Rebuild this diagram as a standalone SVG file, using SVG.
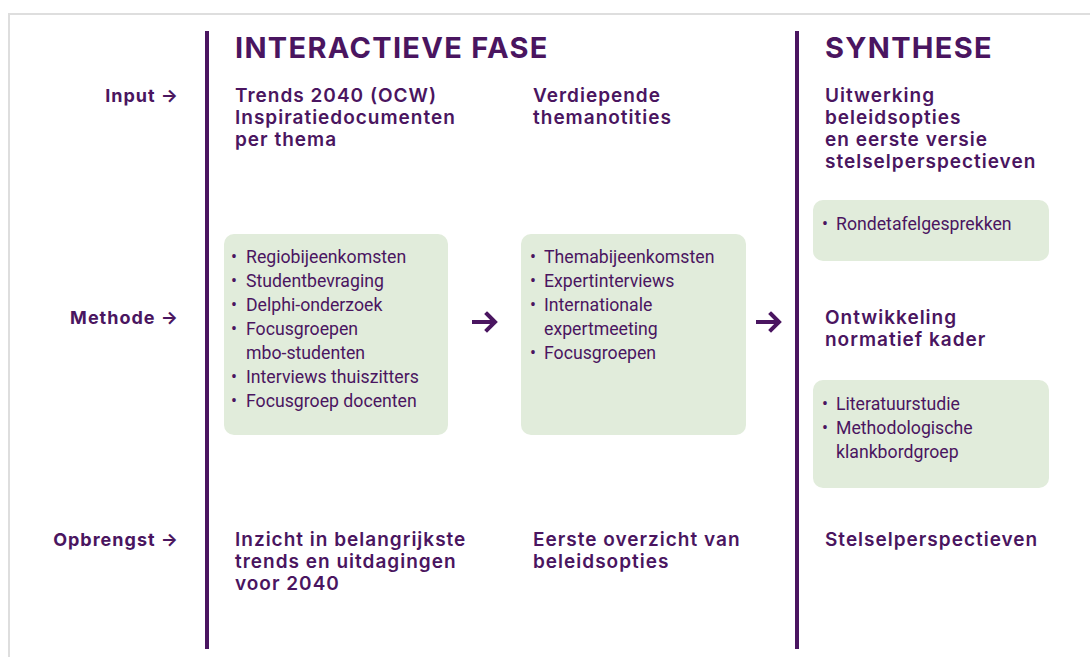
<svg xmlns="http://www.w3.org/2000/svg" width="1090" height="657" viewBox="0 0 1090 657">
<style>
.t{font-family:Inter,"Liberation Sans",sans-serif;font-weight:700;font-size:29px;fill:#4a1560;letter-spacing:1.3px}
.h{font-family:Inter,"Liberation Sans",sans-serif;font-weight:600;font-size:19px;fill:#4a1560;letter-spacing:1px}
.lb{font-family:Inter,"Liberation Sans",sans-serif;font-weight:700;font-size:18px;fill:#4a1560;text-anchor:end;letter-spacing:1px}
.b{font-family:Roboto,"Liberation Sans",sans-serif;font-size:17.7px;fill:#4a1560}
.box{fill:#e1ecdb}
.vl{stroke:#4a1560;stroke-width:4}
.arr{fill:none;stroke:#4a1560;stroke-width:4;stroke-linecap:square}
</style>
<rect width="1090" height="657" fill="#fff"/>
<path d="M9 657 V14 H1090" fill="none" stroke="#dedede" stroke-width="2"/>
<g id="dividers">
<line class="vl" x1="207" y1="31" x2="207" y2="649"/>
<line class="vl" x1="797" y1="31" x2="797" y2="649"/>
</g>
<g id="headers">
<text class="t" x="235" y="58">INTERACTIEVE FASE</text>
<text class="t" x="825" y="58">SYNTHESE</text>
</g>
<g id="row-labels">
<text class="lb" x="179" y="102">Input →</text>
<text class="lb" x="179" y="324">Methode →</text>
<text class="lb" x="179" y="546">Opbrengst →</text>
</g>
<g id="input-1"><text class="h" x="235" y="102">Trends 2040 (OCW)<tspan x="235" dy="22">Inspiratiedocumenten</tspan><tspan x="235" dy="22">per thema</tspan></text></g>
<g id="input-2"><text class="h" x="533" y="102">Verdiepende<tspan x="533" dy="22">themanotities</tspan></text></g>
<g id="input-3"><text class="h" x="825" y="102">Uitwerking<tspan x="825" dy="22">beleidsopties</tspan><tspan x="825" dy="22">en eerste versie</tspan><tspan x="825" dy="22">stelselperspectieven</tspan></text></g>
<g id="methode-1">
<rect class="box" x="224" y="234" width="224" height="201" rx="10"/>
<text class="b"><tspan x="231" y="263">•</tspan><tspan x="246">Regiobijeenkomsten</tspan><tspan x="231" y="287">•</tspan><tspan x="246">Studentbevraging</tspan><tspan x="231" y="311">•</tspan><tspan x="246">Delphi-onderzoek</tspan><tspan x="231" y="335">•</tspan><tspan x="246">Focusgroepen</tspan><tspan x="246" y="359">mbo-studenten</tspan><tspan x="231" y="383">•</tspan><tspan x="246">Interviews thuiszitters</tspan><tspan x="231" y="407">•</tspan><tspan x="246">Focusgroep docenten</tspan></text>
</g>
<g id="methode-2">
<rect class="box" x="521" y="234" width="225" height="201" rx="10"/>
<text class="b"><tspan x="530" y="263">•</tspan><tspan x="544">Themabijeenkomsten</tspan><tspan x="530" y="287">•</tspan><tspan x="544">Expertinterviews</tspan><tspan x="530" y="311">•</tspan><tspan x="544">Internationale</tspan><tspan x="544" y="335">expertmeeting</tspan><tspan x="530" y="359">•</tspan><tspan x="544">Focusgroepen</tspan></text>
</g>
<g id="methode-3a">
<rect class="box" x="813" y="200" width="236" height="61" rx="10"/>
<text class="b"><tspan x="822" y="230">•</tspan><tspan x="836">Rondetafelgesprekken</tspan></text>
</g>
<g id="methode-3b"><text class="h" x="825" y="324">Ontwikkeling<tspan x="825" dy="22">normatief kader</tspan></text></g>
<g id="methode-3c">
<rect class="box" x="813" y="380" width="236" height="108" rx="10"/>
<text class="b"><tspan x="822" y="410">•</tspan><tspan x="836">Literatuurstudie</tspan><tspan x="822" y="434">•</tspan><tspan x="836">Methodologische</tspan><tspan x="836" y="458">klankbordgroep</tspan></text>
</g>
<g id="output-1"><text class="h" x="235" y="546">Inzicht in belangrijkste<tspan x="235" dy="22">trends en uitdagingen</tspan><tspan x="235" dy="22">voor 2040</tspan></text></g>
<g id="output-2"><text class="h" x="533" y="546">Eerste overzicht van<tspan x="533" dy="22">beleidsopties</tspan></text></g>
<g id="output-3"><text class="h" x="825" y="546">Stelselperspectieven</text></g>
<g id="connectors">
<path class="arr" d="M474 322 H494 M487 314 L495 322 L487 330"/>
<path class="arr" d="M758 322 H778 M771 314 L779 322 L771 330"/>
</g>
</svg>
